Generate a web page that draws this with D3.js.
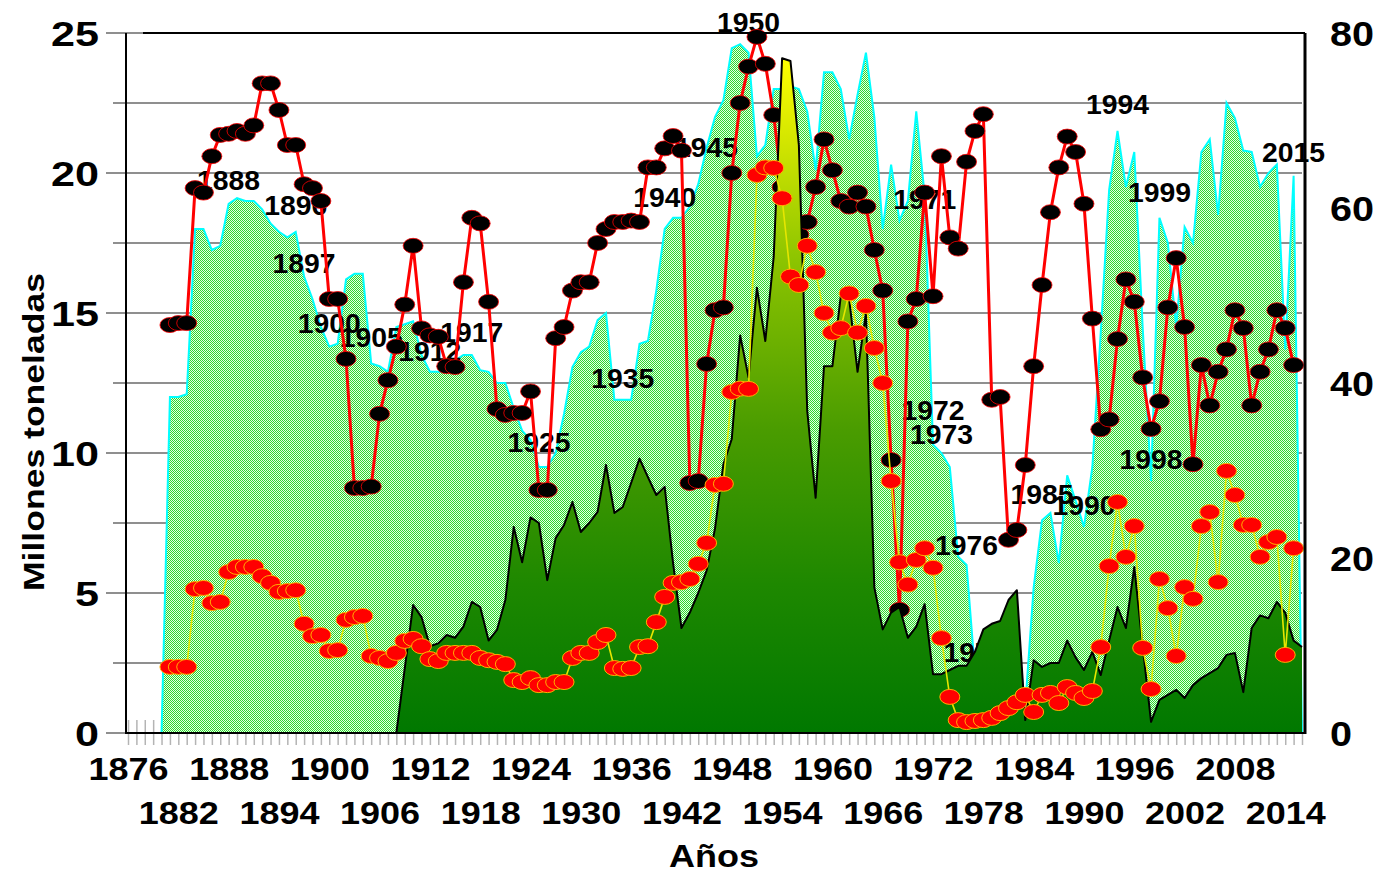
<!DOCTYPE html>
<html><head><meta charset="utf-8">
<script src="https://cdn.jsdelivr.net/npm/d3@7"></script>
<style>
html,body{margin:0;padding:0;background:#fff;}
svg text{font-family:"Liberation Sans",Arial,sans-serif;font-weight:bold;fill:#000;}
</style></head>
<body>
<svg id="chart" width="1383" height="879"></svg>
<script>
// ---------- DATA ----------
const firstYear = 1876, lastYear = 2016;
const years = d3.range(firstYear, lastYear + 1);
const row1Labels = [1876,1888,1900,1912,1924,1936,1948,1960,1972,1984,1996,2008];
const row2Labels = [1882,1894,1906,1918,1930,1942,1954,1966,1978,1990,2002,2014];
const leftTicks = [0,5,10,15,20,25];
const rightTicks = [0,20,40,60,80];

// light green area (starts 1880)
const lightStart = 1880;
const lightValues = [0,12.0,12.0,12.1,18.0,18.0,17.25,17.4,18.9,19.1,19.0,19.0,18.7,18.2,17.9,17.7,17.9,16.3,15.5,14.5,
13.8,13.9,16.2,16.4,16.4,13.2,13.1,12.9,14.5,14.6,14.7,13.5,12.9,12.9,12.9,13.3,13.5,13.5,12.96,12.9,
12.5,12.5,11.6,10.8,10.46,9.5,9.5,10.0,11.4,13.07,13.6,13.8,14.75,15.0,11.9,11.9,11.9,13.9,14.0,15.8,
18.0,18.4,18.4,18.8,19.6,20.9,22.0,22.6,24.46,24.6,24.3,20.6,21.0,23.0,23.0,23.1,23.0,22.2,20.1,23.6,
23.6,23.0,21.2,22.8,24.3,22.0,18.0,20.3,18.3,19.0,22.2,19.2,10.3,10.0,9.5,6.3,6.0,2.2,2.5,3.0,
3.2,3.5,3.5,1.0,5.2,7.6,7.86,6.07,9.2,8.3,7.36,9.5,14.3,19.4,21.5,19.5,20.75,14.5,9.0,18.4,
17.5,14.5,18.07,17.5,20.75,21.2,18.5,22.5,21.96,20.8,20.75,19.5,20.0,20.3,13.7,19.9,0];

// dark green gradient area (starts 1908)
const darkStart = 1908;
const darkValues = [0,2.3,4.57,4.14,3.1,3.2,3.5,3.4,3.8,4.68,4.5,3.3,3.68,4.75,7.36,6.1,7.7,7.5,5.46,6.96,
7.43,8.25,7.18,7.5,7.9,9.57,7.86,8.07,8.93,9.8,9.14,8.5,8.79,6.07,3.75,4.3,5.0,5.8,7.3,9.6,
10.5,14.2,12.7,15.9,14.0,17.0,24.1,24.0,21.0,11.5,8.4,13.1,13.1,15.6,15.5,12.9,15.0,5.2,3.7,4.3,
4.5,3.4,3.8,4.6,2.1,2.1,2.25,2.4,2.4,2.9,3.7,3.9,4.0,4.75,5.1,0.46,2.6,2.36,2.5,2.5,
3.3,2.7,2.25,2.9,2.07,3.3,4.5,3.75,5.93,3.1,0.4,1.18,1.36,1.54,1.25,1.71,1.96,2.14,2.32,2.79,
2.86,1.46,3.75,4.2,4.1,4.68,4.29,3.3,3.07];

// red line with black markers (starts 1881)
const blackStart = 1881;
const blackValues = [14.57,14.64,14.64,19.46,19.3,20.6,21.36,21.4,21.5,21.4,21.7,23.2,23.2,22.25,21.0,21.0,19.6,19.46,19.0,
15.5,15.5,13.36,8.75,8.75,8.8,11.4,12.6,13.8,15.3,17.4,14.45,14.2,14.15,13.1,13.07,16.1,18.4,18.2,15.4,
11.57,11.36,11.43,11.43,12.2,8.68,8.68,14.1,14.5,15.8,16.1,16.1,17.5,18.0,18.25,18.25,18.3,18.25,20.2,20.2,
20.88,21.32,20.8,8.93,9.0,13.18,15.1,15.2,20.0,22.5,23.8,24.86,23.9,22.07,19.5,17.0,17.8,18.25,19.5,21.2,
20.1,19.0,18.8,19.3,18.8,17.25,15.8,9.75,4.4,14.7,15.5,19.3,15.6,20.6,17.7,17.3,20.4,21.5,22.1,11.9,
12.0,6.9,7.25,9.57,13.1,16.0,18.6,20.2,21.3,20.75,18.9,14.8,10.85,11.2,14.07,16.2,15.4,12.7,10.86,11.85,
15.2,16.96,14.5,9.6,13.14,11.7,12.9,13.7,15.1,14.46,11.7,12.9,13.7,15.1,14.46,13.14];

// yellow line with red markers (starts 1881)
const redStart = 1881;
const redValues = [2.36,2.36,2.36,5.14,5.18,4.64,4.68,5.75,5.93,5.93,5.93,5.6,5.36,5.04,5.07,5.1,3.9,3.46,3.5,
2.93,2.96,4.04,4.14,4.18,2.75,2.68,2.57,2.86,3.29,3.36,3.1,2.64,2.57,2.86,2.86,2.86,2.86,2.68,2.6,
2.54,2.46,1.89,1.82,1.96,1.71,1.71,1.82,1.82,2.68,2.86,2.86,3.25,3.5,2.32,2.29,2.32,3.07,3.1,3.96,
4.86,5.36,5.39,5.5,6.04,6.79,8.86,8.9,12.18,12.3,12.29,19.93,20.2,20.18,19.1,16.3,16.0,17.4,16.46,15.0,
14.3,14.46,15.7,14.3,15.25,13.75,12.5,9.0,6.1,5.3,6.18,6.6,5.9,3.39,1.29,0.46,0.39,0.43,0.46,0.54,
0.71,0.89,1.1,1.36,0.75,1.36,1.43,1.07,1.64,1.43,1.25,1.5,3.07,5.96,8.25,6.29,7.39,3.04,1.57,5.5,
4.46,2.75,5.21,4.79,7.39,7.89,5.39,9.36,8.5,7.43,7.43,6.29,6.82,7.0,2.79,6.6];

// year data labels
const labelYears  = [1888,1896,1897,1900,1905,1912,1917,1925,1935,1940,1945,1950,1971,1972,1973,1976,1977,1985,1990,1994,1998,1999,2015];
const labelTexts  = ["1888","1896","1897","1900","1905","1912","1917","1925","1935","1940","1945","1950","1971","1972","1973","1976","1977","1985","1990","1994","1998","1999","2015"];
const labelValues = [19.75,18.86,16.79,14.64,14.14,13.64,14.32,10.39,12.68,19.14,20.93,25.4,19.07,11.54,10.68,6.71,2.89,8.54,8.14,22.46,9.79,19.32,20.75];

const leftTitle = "Millones toneladas";
const bottomTitle = "Años";

// ---------- LAYOUT ----------
const L = 128, R = 1302, T = 33, B = 733;
const svg = d3.select("#chart");
const x = d3.scalePoint().domain(years).range([L, R]);
const yL = d3.scaleLinear().domain([0, 25]).range([B, T]);
const yR = d3.scaleLinear().domain([0, 80]).range([B, T]);
const FONT = '"Liberation Sans",Arial,sans-serif';

const toSeries = (start, vals) => vals.map((v, i) => ({year: start + i, v}));
const light = toSeries(lightStart, lightValues);
const dark = toSeries(darkStart, darkValues);
const blackS = toSeries(blackStart, blackValues);
const redS = toSeries(redStart, redValues);

const defs = svg.append("defs");
const pat = defs.append("pattern").attr("id", "chk").attr("width", 2).attr("height", 2)
  .attr("patternUnits", "userSpaceOnUse");
pat.append("rect").attr("width", 2).attr("height", 2).attr("fill", "#e4ffe4");
pat.append("rect").attr("width", 1).attr("height", 1).attr("fill", "#2ed62e");
pat.append("rect").attr("x", 1).attr("y", 1).attr("width", 1).attr("height", 1).attr("fill", "#2ed62e");

const grad = defs.append("linearGradient").attr("id", "dg").attr("gradientUnits", "userSpaceOnUse")
  .attr("x1", 0).attr("x2", 0).attr("y1", yL(24.1)).attr("y2", B);
[[0, "#ffff00"], [0.12, "#d4e600"], [0.3, "#8cc400"], [0.55, "#4a9c00"], [0.78, "#1e8800"], [1, "#007800"]]
  .forEach(([o, c]) => grad.append("stop").attr("offset", o).attr("stop-color", c));

// ---------- GRID + AXES ----------
const gridVals = d3.range(0, 25.01, 2.5);
svg.append("g").selectAll("line").data(gridVals).join("line")
  .attr("x1", d => (d % 5 === 0) ? 106 : 113).attr("x2", R)
  .attr("y1", d => yL(d)).attr("y2", d => yL(d))
  .attr("stroke", "#8f8f8f").attr("stroke-width", 2);

// category ticks crossing the x axis
const xTicks = svg.append("g").attr("transform", `translate(0,${B - 13})`)
  .call(d3.axisBottom(x).tickValues(years).tickSize(25).tickFormat(""));
xTicks.select(".domain").remove();
xTicks.selectAll("line").attr("stroke", "#b4b4b4").attr("stroke-width", 1.5);

// ---------- LIGHT GREEN AREA ----------
const areaL = d3.area().x(d => x(d.year)).y0(yL(0)).y1(d => yL(d.v));
const lineL = d3.line().x(d => x(d.year)).y(d => yL(d.v));
svg.append("path").datum(light).attr("d", areaL).attr("fill", "url(#chk)");
svg.append("path").datum(light).attr("d", lineL).attr("fill", "none")
  .attr("stroke", "#00ffff").attr("stroke-width", 2);

// ---------- DATA LABELS ----------
svg.append("g").selectAll("text").data(labelYears).join("text")
  .attr("x", d => x(d)).attr("y", (d, i) => yL(labelValues[i]) + 10)
  .attr("text-anchor", "middle").attr("font-size", 28)
  .attr("textLength", 63).attr("lengthAdjust", "spacingAndGlyphs")
  .text((d, i) => labelTexts[i]);

// ---------- RED LINE / BLACK MARKERS ----------
const lineB = d3.line().x(d => x(d.year)).y(d => yL(d.v));
svg.append("path").datum(blackS).attr("d", lineB).attr("fill", "none")
  .attr("stroke", "#ff0000").attr("stroke-width", 3).attr("stroke-linejoin", "round");
svg.append("g").selectAll("ellipse").data(blackS).join("ellipse")
  .attr("cx", d => x(d.year)).attr("cy", d => yL(d.v)).attr("rx", 10).attr("ry", 7.5)
  .attr("fill", "#000").attr("stroke", "#ff0000").attr("stroke-width", 0.8);

// ---------- DARK GREEN AREA ----------
const areaD = d3.area().x(d => x(d.year)).y0(yL(0)).y1(d => yL(d.v));
svg.append("path").datum(dark).attr("d", areaD).attr("fill", "url(#dg)");
svg.append("path").datum(dark).attr("d", lineL).attr("fill", "none")
  .attr("stroke", "#000").attr("stroke-width", 2).attr("stroke-linejoin", "round");

// ---------- YELLOW LINE / RED MARKERS ----------
svg.append("path").datum(redS).attr("d", lineB).attr("fill", "none")
  .attr("stroke", "#e6e600").attr("stroke-width", 1.6);
svg.append("g").selectAll("ellipse").data(redS).join("ellipse")
  .attr("cx", d => x(d.year)).attr("cy", d => yL(d.v)).attr("rx", 10).attr("ry", 7.5)
  .attr("fill", "#ff0000").attr("stroke", "#ffb000").attr("stroke-width", 1);

// ---------- AXIS LINES ----------
svg.append("line").attr("x1", 143).attr("x2", R + 3).attr("y1", T).attr("y2", T)
  .attr("stroke", "#000").attr("stroke-width", 2);
svg.append("line").attr("x1", 126).attr("x2", 126).attr("y1", T).attr("y2", B + 1)
  .attr("stroke", "#000").attr("stroke-width", 2);
svg.append("line").attr("x1", 126).attr("x2", R + 3).attr("y1", B).attr("y2", B)
  .attr("stroke", "#000").attr("stroke-width", 2);
svg.append("line").attr("x1", R + 3).attr("x2", R + 3).attr("y1", T).attr("y2", B + 1)
  .attr("stroke", "#000").attr("stroke-width", 3);

function styleAxisText(sel, size) {
  sel.attr("font-size", size).attr("font-family", null)
    .style("font-family", FONT).style("font-weight", "bold");
}

// left axis labels
const la = svg.append("g").attr("transform", "translate(99,0)")
  .call(d3.axisLeft(yL).tickValues(leftTicks).tickSize(0).tickPadding(0));
la.select(".domain").remove();
styleAxisText(la.selectAll("text").attr("dy", "0.36em"), 35);
la.selectAll("text").attr("textLength", d => String(d).length * 24).attr("lengthAdjust", "spacingAndGlyphs");

// right axis labels
const ra = svg.append("g").attr("transform", "translate(1330,0)")
  .call(d3.axisRight(yR).tickValues(rightTicks).tickSize(0).tickPadding(0));
ra.select(".domain").remove();
styleAxisText(ra.selectAll("text").attr("dy", "0.36em"), 35);
ra.selectAll("text").attr("textLength", d => String(d).length * 22).attr("lengthAdjust", "spacingAndGlyphs");

// bottom labels, two staggered rows
function rowAxis(vals, yPos) {
  const g = svg.append("g").attr("transform", `translate(0,${yPos})`)
    .call(d3.axisBottom(x).tickValues(vals).tickSize(0).tickPadding(0));
  g.select(".domain").remove();
  styleAxisText(g.selectAll("text").attr("dy", 0), 32);
  g.selectAll("text").attr("textLength", 80).attr("lengthAdjust", "spacingAndGlyphs");
}
rowAxis(row1Labels, 780);
rowAxis(row2Labels, 824);

// titles
svg.append("text").attr("x", 714).attr("y", 867).attr("text-anchor", "middle")
  .attr("font-size", 32).attr("textLength", 90).attr("lengthAdjust", "spacingAndGlyphs").text(bottomTitle);
svg.append("text").attr("transform", "translate(44,432) rotate(-90)").attr("text-anchor", "middle")
  .attr("font-size", 30).attr("textLength", 318).attr("lengthAdjust", "spacingAndGlyphs").text(leftTitle);
</script>
</body></html>
